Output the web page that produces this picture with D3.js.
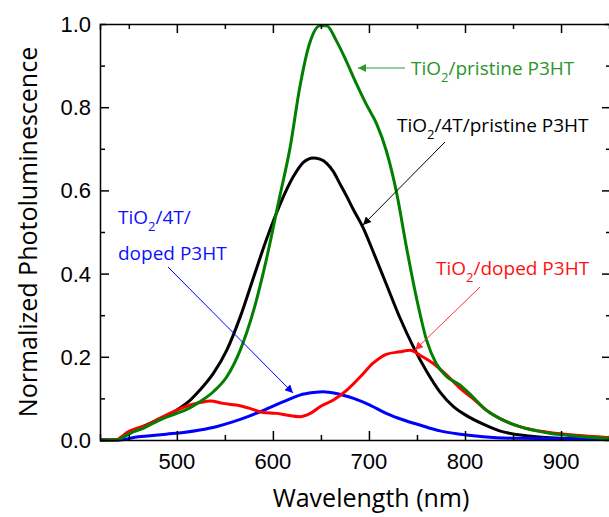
<!DOCTYPE html>
<html>
<head>
<meta charset="utf-8">
<script src="https://cdn.jsdelivr.net/npm/d3@7"></script>
<style>
  body { margin: 0; background: #fff; }
  svg { display: block; }
</style>
</head>
<body>
<svg class="chart" width="609" height="517"></svg>
<script>
// wavelength (nm) and normalized PL
const wlGreen  = [420, 438, 442, 448, 455, 465, 475, 486, 500, 514, 524, 538, 552, 566, 580, 593, 607, 618, 628, 638, 649, 656, 666, 677, 687, 697, 708, 718, 729, 739, 750, 760, 770, 781, 795, 808, 822, 836, 857, 888, 923, 952];
const plGreen  = [0, 0, 0.004, 0.012, 0.02, 0.028, 0.04, 0.052, 0.064, 0.078, 0.092, 0.116, 0.152, 0.216, 0.312, 0.432, 0.584, 0.704, 0.848, 0.952, 0.996, 0.996, 0.96, 0.908, 0.856, 0.808, 0.76, 0.696, 0.592, 0.464, 0.336, 0.24, 0.184, 0.152, 0.132, 0.104, 0.072, 0.052, 0.032, 0.016, 0.008, 0.003];

const wlBlack  = [420, 438, 442, 448, 455, 476, 500, 514, 524, 538, 552, 566, 580, 593, 607, 621, 632, 642, 649, 656, 663, 670, 677, 684, 694, 704, 718, 732, 746, 760, 774, 788, 802, 819, 836, 864, 899, 952];
const plBlack  = [0, 0, 0.004, 0.012, 0.022, 0.044, 0.072, 0.096, 0.12, 0.16, 0.216, 0.296, 0.392, 0.48, 0.564, 0.632, 0.668, 0.678, 0.675, 0.665, 0.645, 0.615, 0.585, 0.553, 0.51, 0.455, 0.375, 0.295, 0.225, 0.165, 0.115, 0.08, 0.058, 0.038, 0.022, 0.01, 0.004, 0.002];

const wlRed    = [420, 436, 442, 448, 458, 469, 482, 500, 514, 524, 535, 548, 562, 576, 590, 604, 614, 628, 639, 649, 663, 677, 691, 704, 718, 732, 743, 753, 767, 781, 795, 808, 822, 836, 857, 888, 923, 952];
const plRed    = [0, 0, 0.007, 0.018, 0.028, 0.036, 0.052, 0.072, 0.084, 0.09, 0.094, 0.088, 0.084, 0.076, 0.066, 0.064, 0.06, 0.056, 0.064, 0.08, 0.096, 0.12, 0.152, 0.184, 0.206, 0.212, 0.216, 0.204, 0.184, 0.156, 0.124, 0.1, 0.072, 0.052, 0.032, 0.018, 0.01, 0.005];

const wlBlue   = [420, 441, 455, 472, 489, 507, 524, 541, 559, 576, 593, 611, 628, 642, 652, 666, 684, 701, 718, 736, 753, 774, 795, 819, 854, 952];
const plBlue   = [0, 0, 0.006, 0.01, 0.014, 0.018, 0.024, 0.032, 0.044, 0.058, 0.074, 0.092, 0.108, 0.114, 0.116, 0.112, 0.1, 0.084, 0.064, 0.048, 0.036, 0.022, 0.014, 0.008, 0.004, 0.002];

const xTicks = [500, 600, 700, 800, 900];
const yTicks = [0, 0.2, 0.4, 0.6, 0.8, 1.0];

const svg = d3.select('svg.chart');
const mLeft = 100, mRight = 611, mTop = 24, mBottom = 440;

const x = d3.scaleLinear().domain([420, 952]).range([mLeft, mRight]);
const y = d3.scaleLinear().domain([0, 1]).range([mBottom, mTop]);

const series = [
    { wl: wlGreen, pl: plGreen, color: '#008000' },
    { wl: wlBlack, pl: plBlack, color: '#000000' },
    { wl: wlRed,   pl: plRed,   color: '#ff0000' },
    { wl: wlBlue,  pl: plBlue,  color: '#0000ff' }
];

const line = d3.line()
    .x(d => x(d[0]))
    .y(d => y(d[1]))
    .curve(d3.curveMonotoneX);

// curves (drawn so green sits over black like the original)
[series[1], series[3], series[2], series[0]].forEach(s => {
    svg.append('path')
        .attr('d', line(d3.zip(s.wl, s.pl)))
        .attr('fill', 'none')
        .attr('stroke', s.color)
        .attr('stroke-width', 3)
        .attr('stroke-linejoin', 'round');
});

// frame + inward ticks
const axisFont = '"Liberation Sans", Arial, sans-serif';

const bottomAxis = svg.append('g').attr('transform', `translate(0,${mBottom})`)
    .call(d3.axisBottom(x).tickValues(d3.range(450, 951, 50)).tickSize(-6).tickFormat(''));
const topAxis = svg.append('g').attr('transform', `translate(0,${mTop})`)
    .call(d3.axisTop(x).tickValues(d3.range(450, 951, 50)).tickSize(-6).tickFormat(''));
const leftAxis = svg.append('g').attr('transform', `translate(${mLeft},0)`)
    .call(d3.axisLeft(y).tickValues(d3.range(0.1, 1.0, 0.1)).tickSize(-6).tickFormat(''));
const rightAxis = svg.append('g').attr('transform', `translate(${mRight},0)`)
    .call(d3.axisRight(y).tickValues(d3.range(0.1, 1.0, 0.1)).tickSize(-6).tickFormat(''));

// major ticks a bit longer
[bottomAxis, topAxis].forEach(g => g.selectAll('.tick line')
    .attr('y2', d => (d % 100 === 0 ? 9 : 5) * (g === bottomAxis ? -1 : 1)));
[leftAxis, rightAxis].forEach(g => g.selectAll('.tick line')
    .attr('x2', d => (Math.round(d * 10) % 2 === 0 ? 9 : 5) * (g === leftAxis ? 1 : -1)));

[bottomAxis, topAxis, leftAxis, rightAxis].forEach(g => {
    g.select('.domain').attr('stroke', '#000').attr('stroke-width', 1.5);
    g.selectAll('.tick line').attr('stroke', '#000').attr('stroke-width', 1.5);
});

// tick labels
svg.append('g').selectAll('text').data(xTicks).join('text')
    .attr('x', d => x(d)).attr('y', 469)
    .attr('text-anchor', 'middle')
    .style('font-family', axisFont).style('font-size', '22px')
    .text(d => d);

svg.append('g').selectAll('text').data(yTicks).join('text')
    .attr('x', 91).attr('y', d => y(d) + 8)
    .attr('text-anchor', 'end')
    .style('font-family', axisFont).style('font-size', '22px')
    .text(d => d3.format('.1f')(d));

// axis titles
const labelFont = '"Open Sans", "Noto Sans", sans-serif';
svg.append('text')
    .attr('x', 371).attr('y', 507)
    .attr('text-anchor', 'middle')
    .style('font-family', labelFont).style('font-size', '25px')
    .text('Wavelength (nm)');

svg.append('text')
    .attr('transform', 'translate(37,232) rotate(-90)')
    .attr('text-anchor', 'middle')
    .style('font-family', labelFont).style('font-size', '25px')
    .text('Normalized Photoluminescence');

// annotations
svg.append('defs').selectAll('marker')
    .data([['g', '#2e9a2e'], ['k', '#000'], ['r', '#ff3030'], ['b', '#0000ff']])
    .join('marker')
    .attr('id', d => 'arr-' + d[0])
    .attr('viewBox', '0 0 10 10').attr('refX', 10).attr('refY', 5)
    .attr('markerWidth', 11).attr('markerHeight', 8)
    .attr('markerUnits', 'userSpaceOnUse')
    .attr('orient', 'auto')
    .append('path').attr('d', 'M0,0 L10,5 L0,10 z').attr('fill', d => d[1]);

function label(parts, xPos, yPos, color) {
    const t = svg.append('text')
        .attr('x', xPos).attr('y', yPos)
        .style('font-family', labelFont).style('font-size', '19px')
        .attr('fill', color);
    parts.forEach(p => {
        if (p.sub) {
            t.append('tspan').attr('dy', 7).style('font-size', '13px').text(p.sub);
        } else {
            t.append('tspan').attr('dy', p.after ? -7 : 0).text(p.text);
        }
    });
}

function arrow(x1, y1, x2, y2, color, id) {
    svg.append('line')
        .attr('x1', x1).attr('y1', y1).attr('x2', x2).attr('y2', y2)
        .attr('stroke', color).attr('stroke-width', 1)
        .attr('marker-end', `url(#arr-${id})`);
}

label([{ text: 'TiO' }, { sub: '2' }, { text: '/pristine P3HT', after: true }], 411, 75, '#2a962a');
arrow(405, 68, 358, 68, '#2e9a2e', 'g');

label([{ text: 'TiO' }, { sub: '2' }, { text: '/4T/pristine P3HT', after: true }], 397, 132, '#000');
arrow(445, 142, 363, 225, '#000', 'k');

label([{ text: 'TiO' }, { sub: '2' }, { text: '/doped P3HT', after: true }], 436, 275, '#ff1010');
arrow(480, 287, 415, 350, '#ff3030', 'r');

label([{ text: 'TiO' }, { sub: '2' }, { text: '/4T/', after: true }], 118, 224, '#1010ff');
label([{ text: 'doped P3HT' }], 118, 260, '#1010ff');
arrow(168, 267, 293, 393, '#0000ff', 'b');
</script>
</body>
</html>
